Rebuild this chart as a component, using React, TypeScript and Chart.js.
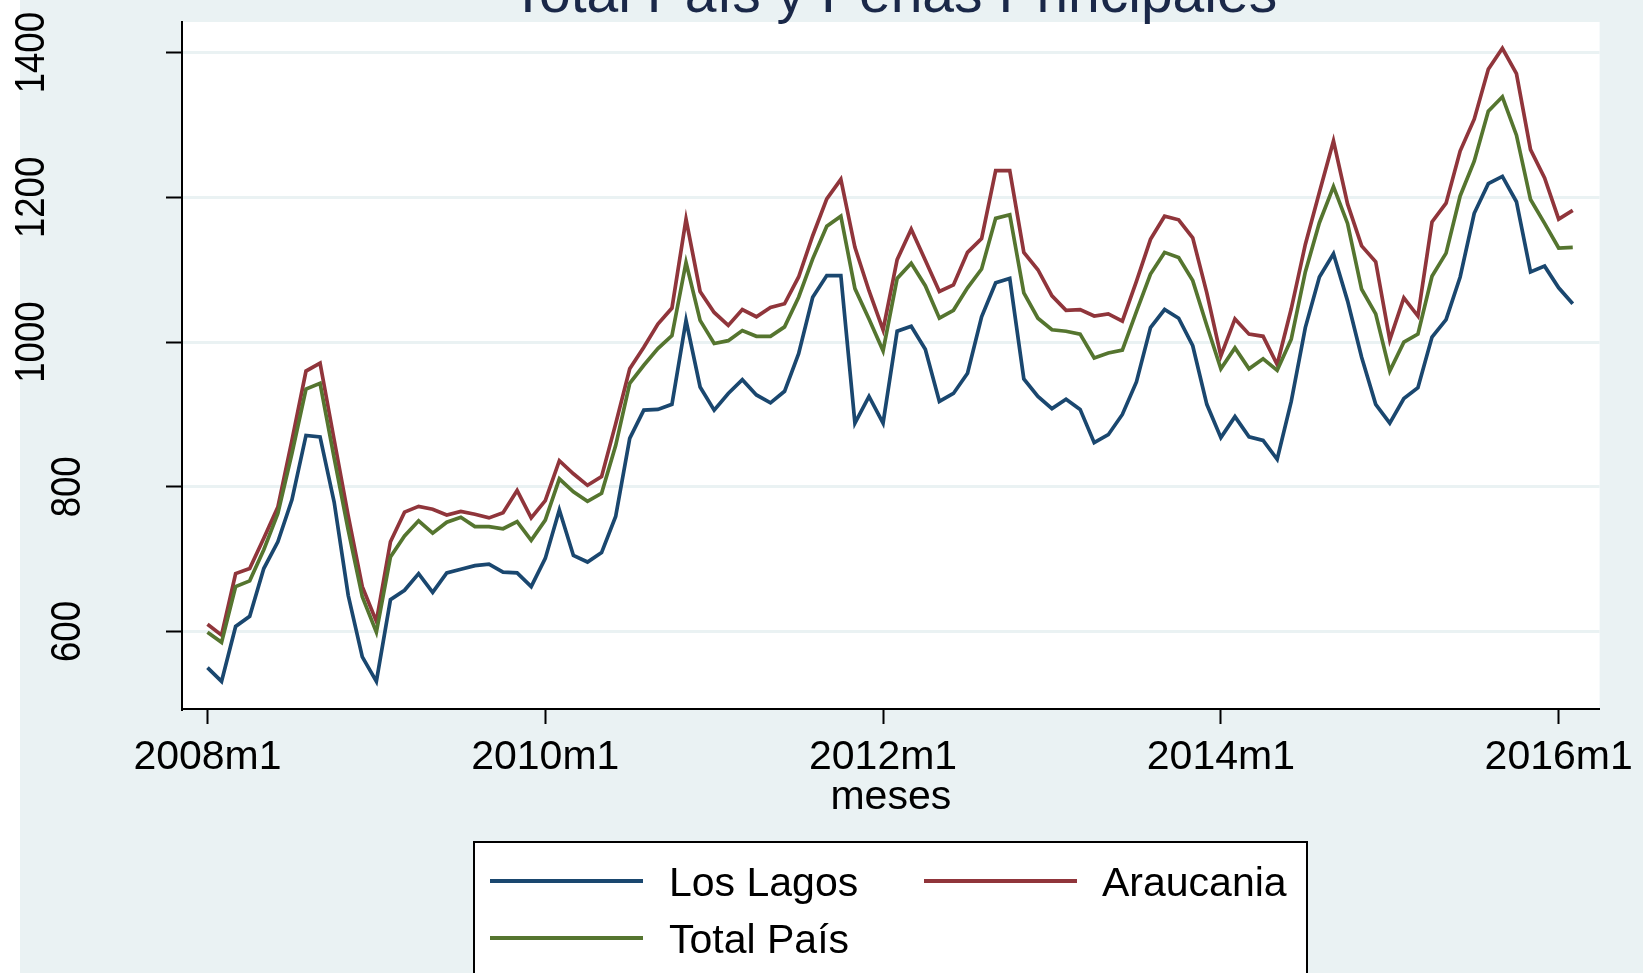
import React, { useEffect, useRef } from "react";
import { Chart, registerables } from "chart.js";

Chart.register(...registerables);

// Monthly series, 2008m1 .. 2016m2 (index 0 = 2008m1)
const losLagos = [
  550, 531, 607, 621, 687, 724, 782, 871, 869, 779, 650, 565, 531, 644, 657, 680, 654, 681, 686, 691,
  693, 682, 681, 662, 701, 768, 705, 696, 709, 759, 867, 906, 907, 914, 1030, 938, 906, 929, 948, 927,
  916, 932, 984, 1062, 1092, 1092, 888, 925, 888, 1015, 1022, 990, 918, 929, 957, 1035, 1082, 1088, 949, 925,
  908, 921, 907, 861, 872, 900, 945, 1020, 1045, 1033, 995, 914, 868, 897, 869, 864, 838, 918, 1020, 1090,
  1122, 1057, 979, 914, 888, 922, 937, 1007, 1031, 1090, 1178, 1219, 1229, 1194, 1097, 1105, 1075, 1053,
];
const araucania = [
  610, 595, 680, 687, 729, 772, 864, 960, 971, 865, 760, 662, 614, 724, 765, 773, 769, 761, 766, 762,
  757, 764, 795, 757, 781, 836, 818, 802, 814, 887, 963, 993, 1025, 1047, 1170, 1070, 1041, 1023, 1045, 1035,
  1048, 1053, 1090, 1147, 1198, 1225, 1131, 1071, 1017, 1114, 1156, 1113, 1070, 1079, 1124, 1143, 1237, 1237, 1124, 1100,
  1064, 1044, 1045, 1036, 1039, 1029, 1084, 1142, 1174, 1169, 1144, 1068, 981, 1032, 1011, 1008, 969, 1046, 1135, 1207,
  1278, 1191, 1133, 1111, 1003, 1061, 1036, 1166, 1192, 1264, 1308, 1377, 1406, 1371, 1266, 1227, 1170, 1182,
];
const totalPais = [
  599, 585, 662, 670, 713, 763, 846, 935, 943, 840, 740, 648, 599, 703, 732, 753, 736, 751, 758, 745,
  745, 742, 752, 726, 754, 811, 793, 780, 791, 857, 943, 968, 991, 1009, 1110, 1030, 998, 1002, 1016, 1008,
  1008, 1021, 1062, 1115, 1160, 1174, 1074, 1032, 988, 1088, 1109, 1078, 1033, 1044, 1075, 1101, 1171, 1176, 1068, 1033,
  1017, 1015, 1011, 978, 985, 989, 1042, 1094, 1124, 1117, 1085, 1023, 963, 992, 963, 977, 961, 1004, 1097, 1165,
  1215, 1164, 1073, 1039, 960, 1000, 1011, 1091, 1123, 1202, 1250, 1319, 1339, 1286, 1197, 1164, 1130, 1131,
];

const seriesLabels = ["Los Lagos", "Araucania", "Total País"];
const seriesColors = ["#1a476f", "#90353b", "#55752f"];

const xTickIndex = [0, 24, 48, 72, 96];
const xTickLabels = ["2008m1", "2010m1", "2012m1", "2014m1", "2016m1"];
const yTickValues = [600, 800, 1000, 1200, 1400];
const yTickLabels = ["600", "800", "1000", "1200", "1400"];

const titleText = "Total País y Penas Principales";
const xTitleText = "meses";

const FONT = '"Liberation Sans", Arial, Helvetica, sans-serif';
const BG = "#eaf2f3";

const bgPlugin = {
  id: "bgPlugin",
  beforeDraw(chart: any) {
    const { ctx, width, height, chartArea } = chart;
    ctx.save();
    ctx.fillStyle = "#ffffff";
    ctx.fillRect(0, 0, width, height);
    ctx.fillStyle = BG;
    ctx.fillRect(20, 0, width - 20, height);
    ctx.fillStyle = "#ffffff";
    ctx.fillRect(chartArea.left, chartArea.top, chartArea.right - chartArea.left, chartArea.bottom - chartArea.top);
    ctx.restore();
  },
};

const decorPlugin = {
  id: "decorPlugin",
  afterDraw(chart: any) {
    const { ctx, chartArea } = chart;
    const yScale = chart.scales.y;
    ctx.save();
    // title (cut off at top)
    ctx.fillStyle = "#1a2848";
    ctx.font = `57px ${FONT}`;
    ctx.textAlign = "center";
    ctx.textBaseline = "alphabetic";
    ctx.fillText(titleText, (chartArea.left + chartArea.right) / 2 + 3, 12);

    // y tick labels, rotated
    ctx.fillStyle = "#000000";
    ctx.font = `42px ${FONT}`;
    yTickValues.forEach((v, i) => {
      const label = yTickLabels[i];
      const py = yScale.getPixelForValue(v);
      const baseX = label.length >= 4 ? 44 : 80;
      ctx.save();
      ctx.translate(baseX, py);
      ctx.rotate(-Math.PI / 2);
      ctx.scale(0.87, 1);
      ctx.textAlign = "center";
      ctx.textBaseline = "alphabetic";
      ctx.fillText(label, 0, 0);
      ctx.restore();
    });

    // legend box
    const bx = 474, by = 842, bw = 833, bh = 200;
    ctx.fillStyle = "#ffffff";
    ctx.fillRect(bx, by, bw, bh);
    ctx.strokeStyle = "#000000";
    ctx.lineWidth = 2;
    ctx.strokeRect(bx, by, bw, bh);
    const items = [
      { lx: 490, ly: 881, tx: 669 },
      { lx: 924, ly: 881, tx: 1102 },
      { lx: 490, ly: 938, tx: 669 },
    ];
    ctx.font = `41px ${FONT}`;
    ctx.textAlign = "left";
    ctx.textBaseline = "middle";
    chart.data.datasets.forEach((ds: any, i: number) => {
      const it = items[i];
      ctx.strokeStyle = ds.borderColor;
      ctx.lineWidth = 3.8;
      ctx.beginPath();
      ctx.moveTo(it.lx, it.ly);
      ctx.lineTo(it.lx + 153, it.ly);
      ctx.stroke();
      ctx.fillStyle = "#000000";
      ctx.fillText(ds.label, it.tx, it.ly + 4);
    });
    ctx.restore();
  },
};

export default function App() {
  const ref = useRef<HTMLCanvasElement | null>(null);
  useEffect(() => {
    if (!ref.current) return;
    const mk = (vals: number[]) => vals.map((v, i) => ({ x: i, y: v }));
    const datasets = [losLagos, araucania, totalPais].map((vals, i) => ({
      label: seriesLabels[i],
      data: mk(vals),
      borderColor: seriesColors[i],
      backgroundColor: seriesColors[i],
      borderWidth: 3.7,
      pointRadius: 0,
      tension: 0,
      fill: false,
      order: 2 - i,
    }));
    const chart = new Chart(ref.current, {
      type: "line",
      data: { datasets },
      plugins: [bgPlugin, decorPlugin],
      options: {
        animation: false,
        responsive: false,
        devicePixelRatio: 1,
        layout: { padding: { top: 22, right: 43, bottom: 147, left: 0 } },
        plugins: { legend: { display: false }, tooltip: { enabled: false }, title: { display: false } },
        scales: {
          x: {
            type: "linear",
            min: -1.81,
            max: 98.91,
            afterBuildTicks: (s: any) => {
              s.ticks = xTickIndex.map((v) => ({ value: v }));
            },
            afterFit: (s: any) => {
              s.height = 117;
            },
            ticks: {
              autoSkip: false,
              maxRotation: 0,
              minRotation: 0,
              padding: 9,
              color: "#000000",
              font: { family: FONT, size: 41 },
              callback: (v: any) => {
                const k = xTickIndex.indexOf(Number(v));
                return k >= 0 ? xTickLabels[k] : "";
              },
            },
            grid: {
              display: true,
              drawOnChartArea: false,
              drawTicks: true,
              tickLength: 15,
              tickColor: "#000000",
              tickWidth: 2,
            },
            border: { display: true, color: "#000000", width: 2 },
            title: {
              display: true,
              text: xTitleText,
              color: "#000000",
              font: { family: FONT, size: 41 },
              padding: { top: 0, bottom: 4 },
            },
          },
          y: {
            type: "linear",
            min: 492.9,
            max: 1442.4,
            afterBuildTicks: (s: any) => {
              s.ticks = yTickValues.map((v) => ({ value: v }));
            },
            afterFit: (s: any) => {
              s.width = 182;
            },
            ticks: { display: false },
            grid: {
              display: true,
              drawOnChartArea: true,
              color: BG,
              lineWidth: 3,
              drawTicks: true,
              tickLength: 16,
              tickColor: "#000000",
              tickWidth: 2,
            },
            border: { display: true, color: "#000000", width: 2 },
          },
        },
      },
    });
    return () => chart.destroy();
  }, []);
  return (
    <div style={{ position: "absolute", left: 0, top: 0, width: 1643, height: 973 }}>
      <canvas ref={ref} width={1643} height={973} style={{ display: "block", width: 1643, height: 973 }} />
    </div>
  );
}
